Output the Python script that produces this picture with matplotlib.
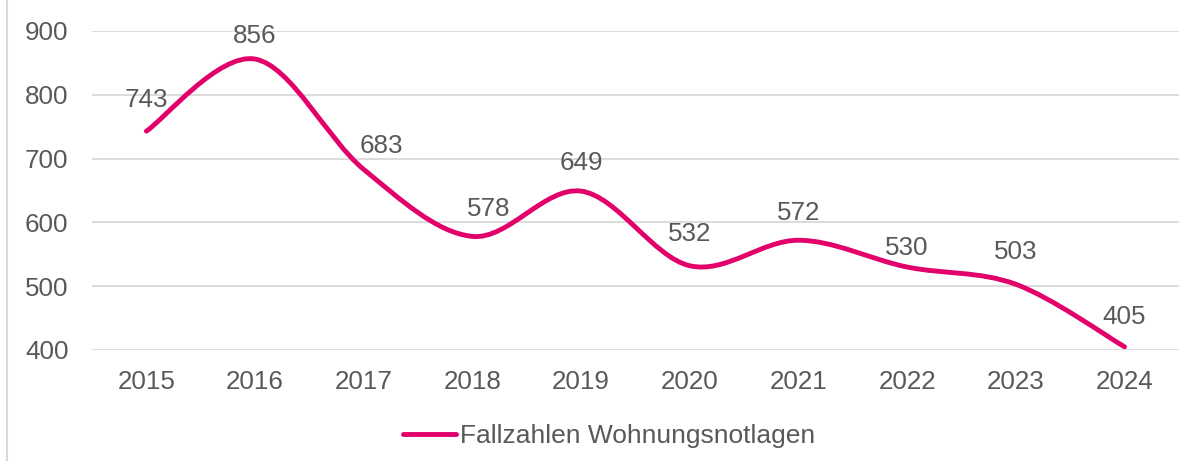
import matplotlib
matplotlib.use('Agg')
import matplotlib.pyplot as plt
from matplotlib.path import Path
from matplotlib.patches import PathPatch
from matplotlib.lines import Line2D
import numpy as np

years = ['2015', '2016', '2017', '2018', '2019', '2020', '2021', '2022', '2023', '2024']
cases = [743, 856, 683, 578, 649, 532, 572, 530, 503, 405]
series_name = 'Fallzahlen Wohnungsnotlagen'

# label placement (pixels): gap of baseline above the point, sideways nudge
label_dy = [24, 16, 16, 20, 21, 25, 20, 12, 25, 23]
label_dx = [0, 0, 18, 16, 0, 0, 0, 0, 0, 0]

pink = '#E2006A'
grey = '#595959'
fs = 18.7
plt.rcParams['font.family'] = ['Liberation Sans', 'DejaVu Sans']


def smooth_path(x, y, t=1/6):
    # Excel-like smoothed line as cubic Bezier segments through the points
    pts = np.column_stack([x, y]).astype(float)
    verts = [pts[0]]
    codes = [Path.MOVETO]
    n = len(pts)
    for i in range(n - 1):
        p0 = pts[i - 1] if i > 0 else pts[i]
        p1 = pts[i]
        p2 = pts[i + 1]
        p3 = pts[i + 2] if i + 2 < n else pts[i + 1]
        c1 = p1 + (p2 - p0) * t
        c2 = p2 - (p3 - p1) * t
        verts += [c1, c2, p2]
        codes += [Path.CURVE4] * 3
    return Path(verts, codes)


fig = plt.figure(figsize=(11.92, 4.61), dpi=100)
ax = fig.add_axes([0.0772, 0.2408, 0.9118, 0.692])

x = np.arange(len(years))
ax.add_patch(PathPatch(smooth_path(x, cases), facecolor='none', edgecolor=pink,
                       lw=3.5, capstyle='round', joinstyle='round', zorder=3))

for xi, v, dx, dy in zip(x, cases, label_dx, label_dy):
    ax.annotate(str(v), (xi, v), xytext=(dx, dy), textcoords='offset pixels',
                ha='center', va='baseline', fontsize=fs, color=grey, zorder=4,
                annotation_clip=False)

ax.set_xlim(-0.5, len(years) - 0.5)
ax.set_ylim(400, 900)
ax.set_yticks(range(400, 901, 100))
ax.set_xticks(x)
ax.set_xticklabels(years)
ax.tick_params(axis='both', length=0, labelsize=fs, labelcolor=grey)
ax.tick_params(axis='y', pad=17)
ax.tick_params(axis='x', pad=14.5)
ax.grid(axis='y', color='#D9D9D9', lw=1.3)
ax.set_axisbelow(True)
for s in ax.spines.values():
    s.set_visible(False)

handle = Line2D([], [], color=pink, lw=3.5, solid_capstyle='round')
fig.legend([handle], [series_name], loc='center', bbox_to_anchor=(0.511, 0.054),
           frameon=False, fontsize=19, labelcolor=grey, handlelength=2.0,
           handletextpad=0.15)

fig.add_artist(Line2D([7 / 1192, 7 / 1192], [0, 1], color='#D9D9D9', lw=1.5))

plt.savefig('out.png', dpi=100)
